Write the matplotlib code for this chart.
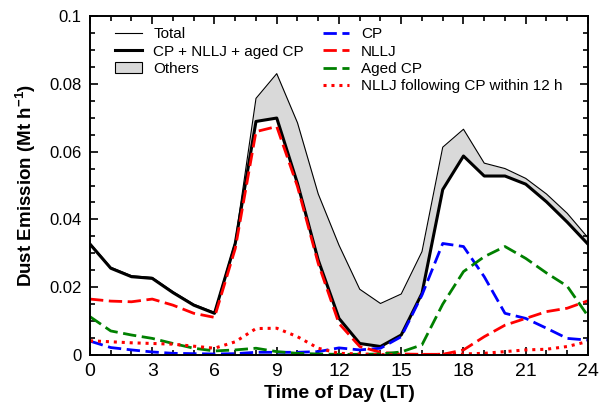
import matplotlib

matplotlib.use("Agg")

import matplotlib.pyplot as plt
from matplotlib.lines import Line2D
from matplotlib.patches import Patch
from matplotlib.ticker import FuncFormatter, MultipleLocator


hours = list(range(25))

total = [0.0330, 0.0259, 0.0234, 0.0229, 0.0187, 0.0150, 0.0126, 0.0335, 0.0757, 0.0830,
         0.0685, 0.0475, 0.0324, 0.0194, 0.0152, 0.0180, 0.0305, 0.0613, 0.0666, 0.0566,
         0.0550, 0.0521, 0.0475, 0.0418, 0.0346]
cp_nllj_aged = [0.0327, 0.0256, 0.0231, 0.0226, 0.0184, 0.0147, 0.0123, 0.0329, 0.0689, 0.0699,
                0.0506, 0.0280, 0.0108, 0.0034, 0.0025, 0.0059, 0.0182, 0.0488, 0.0587, 0.0528,
                0.0528, 0.0504, 0.0452, 0.0392, 0.0327]
cp = [0.0041, 0.0022, 0.0015, 0.0009, 0.0005, 0.0004, 0.0003, 0.0004, 0.0008, 0.0008,
      0.0008, 0.0010, 0.0021, 0.0015, 0.0020, 0.0054, 0.0177, 0.0329, 0.0320, 0.0231,
      0.0123, 0.0108, 0.0079, 0.0049, 0.0044]
nllj = [0.0165, 0.0159, 0.0157, 0.0165, 0.0147, 0.0123, 0.0111, 0.0314, 0.0659, 0.0674,
        0.0497, 0.0270, 0.0093, 0.0025, 0.0008, 0.0003, 0.0002, 0.0002, 0.0015, 0.0054,
        0.0088, 0.0108, 0.0128, 0.0138, 0.0160]
aged_cp = [0.0113, 0.0071, 0.0059, 0.0049, 0.0034, 0.0020, 0.0012, 0.0015, 0.0020, 0.0010,
           0.0005, 0.0003, 0.0002, 0.0002, 0.0003, 0.0009, 0.0030, 0.0150, 0.0246, 0.0290,
           0.0320, 0.0285, 0.0242, 0.0203, 0.0115]
nllj_after_cp = [0.0042, 0.0039, 0.0036, 0.0034, 0.0032, 0.0026, 0.0020, 0.0039, 0.0078, 0.0079,
                 0.0054, 0.0020, 0.0005, 0.0003, 0.0001, 0.0001, 0.0001, 0.0002, 0.0003, 0.0005,
                 0.0010, 0.0015, 0.0017, 0.0025, 0.0040]

DASHED = (0, (4.8, 2.0))
DOTTED = (0, (1, 1.6))

plt.rcParams["font.family"] = ["Liberation Sans", "DejaVu Sans"]
plt.rcParams["mathtext.fontset"] = "custom"
plt.rcParams["mathtext.rm"] = "Liberation Sans"
plt.rcParams["mathtext.bf"] = "Liberation Sans:bold"

fig = plt.figure(figsize=(6.02, 4.18), dpi=100)
ax = fig.add_axes([0.1495, 0.1507, 0.8272, 0.811])

ax.fill_between(hours, cp_nllj_aged, total, color="#d9d9d9", linewidth=0)
ax.plot(hours, total, color="black", linewidth=0.8)
ax.plot(hours, cp_nllj_aged, color="black", linewidth=2.2)
ax.plot(hours, cp, color="#0000ff", linewidth=2.0, linestyle=DASHED)
ax.plot(hours, nllj, color="#ff0000", linewidth=2.0, linestyle=DASHED)
ax.plot(hours, aged_cp, color="#008000", linewidth=2.0, linestyle=DASHED)
ax.plot(hours, nllj_after_cp, color="#ff0000", linewidth=2.2, linestyle=DOTTED)

ax.set_xlim(0, 24)
ax.set_ylim(0, 0.1)
ax.xaxis.set_major_locator(MultipleLocator(3))
ax.xaxis.set_minor_locator(MultipleLocator(1))
ax.yaxis.set_major_locator(MultipleLocator(0.02))
ax.yaxis.set_minor_locator(MultipleLocator(0.005))
ax.yaxis.set_major_formatter(FuncFormatter(lambda v, _: f"{v:g}"))
ax.tick_params(which="both", direction="in", top=True, right=True, width=1.2)
ax.tick_params(which="major", length=6)
ax.tick_params(which="minor", length=3.5)
ax.tick_params(axis="x", labelsize=14, pad=6)
ax.tick_params(axis="y", labelsize=12, pad=6)
for spine in ax.spines.values():
    spine.set_linewidth(1.4)

ax.set_xlabel("Time of Day (LT)", fontsize=14, fontweight="bold", labelpad=3)
ax.set_ylabel(r"Dust Emission (Mt h$^{\mathbf{-1}}$)", fontsize=13.5, fontweight="bold", labelpad=8)

left_handles = [
    Line2D([], [], color="black", linewidth=0.8),
    Line2D([], [], color="black", linewidth=2.2),
    Patch(facecolor="#d9d9d9", edgecolor="black", linewidth=0.8),
]
leg1 = ax.legend(left_handles, ["Total", "CP + NLLJ + aged CP", "Others"],
                 loc="upper left", bbox_to_anchor=(0.038, 0.985), frameon=False,
                 fontsize=11, handlelength=1.75, handletextpad=0.75, labelspacing=0.22,
                 borderaxespad=0)
ax.add_artist(leg1)

right_handles = [
    Line2D([], [], color="#0000ff", linewidth=2.0, linestyle=DASHED),
    Line2D([], [], color="#ff0000", linewidth=2.0, linestyle=DASHED),
    Line2D([], [], color="#008000", linewidth=2.0, linestyle=DASHED),
    Line2D([], [], color="#ff0000", linewidth=2.2, linestyle=DOTTED),
]
ax.legend(right_handles, ["CP", "NLLJ", "Aged CP", "NLLJ following CP within 12 h"],
          loc="upper left", bbox_to_anchor=(0.455, 0.985), frameon=False,
          fontsize=11, handlelength=1.75, handletextpad=0.75, labelspacing=0.22,
          borderaxespad=0)

fig.savefig("out.png", dpi=100)
plt.close(fig)
